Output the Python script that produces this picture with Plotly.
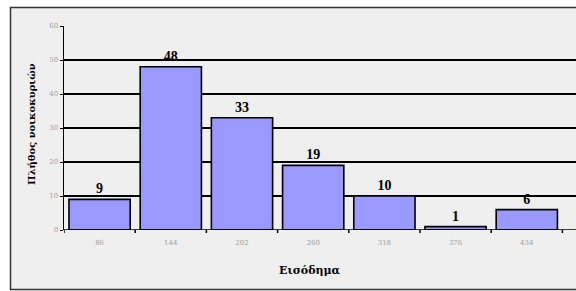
import plotly.graph_objects as go

categories = ["86", "144", "202", "260", "318", "376", "434"]
counts = [9, 48, 33, 19, 10, 1, 6]
y_ticks = [0, 10, 20, 30, 40, 50, 60]
x_title = "Εισόδημα"
y_title = "Πλήθος νοικοκυριών"

L, R, T, B = 64, 0, 26, 61
W, H = 576, 291
PW, PH = W - L - R, H - T - B

fig = go.Figure()
fig.add_trace(go.Bar(
    x=list(range(len(categories))),
    y=counts,
    text=["<b>%d</b>" % v for v in counts],
    textposition="outside",
    cliponaxis=False,
    textfont=dict(family="Liberation Serif", size=14, color="black"),
    marker=dict(color="#9999ff", line=dict(color="black", width=1.6)),
    width=0.86,
    hoverinfo="skip",
))

fig.update_layout(
    width=W, height=H,
    margin=dict(l=L, r=R, t=T, b=B, autoexpand=False),
    paper_bgcolor="white",
    plot_bgcolor="rgba(0,0,0,0)",
    showlegend=False,
    font=dict(family="DejaVu Serif"),
    xaxis=dict(
        tickmode="array",
        tickvals=list(range(len(categories))),
        ticktext=categories,
        range=[-0.5, -0.5 + PW / 71.2],
        showgrid=False,
        zeroline=False,
        showline=False,
        ticks="",
        automargin=False,
        ticklabelstandoff=7,
        tickfont=dict(size=7, color="#a0a0a0"),
    ),
    yaxis=dict(
        range=[0, 60],
        tickvals=y_ticks,
        showgrid=True,
        gridcolor="black",
        gridwidth=1.5,
        zeroline=False,
        showline=True,
        linecolor="black",
        linewidth=1.5,
        ticks="outside",
        ticklen=3,
        tickcolor="black",
        automargin=False,
        tickfont=dict(size=7, color="#a0a0a0"),
    ),
    annotations=[
        dict(text="<b>" + x_title + "</b>", xref="paper", yref="paper",
             x=(310 - L) / PW, y=-(270 - (H - B)) / PH, showarrow=False,
             xanchor="center", yanchor="middle",
             font=dict(family="DejaVu Serif", size=11, color="black")),
        dict(text="<b>" + y_title + "</b>", xref="paper", yref="paper",
             x=(31 - L) / PW, y=1 - (124 - T) / PH, showarrow=False, textangle=-90,
             xanchor="center", yanchor="middle",
             font=dict(family="DejaVu Serif", size=10, color="black")),
    ],
    shapes=[
        # outer frame with grey fill
        dict(type="rect", xref="paper", yref="paper",
             x0=(10.5 - L) / PW, x1=1.2, y0=-(289.5 - (H - B)) / PH, y1=1 + (T - 7.5) / PH,
             line=dict(color="#333333", width=1.5), fillcolor="#efefef", layer="below"),
        # baseline
        dict(type="line", xref="paper", yref="y", x0=0, x1=1, y0=0, y1=0,
             line=dict(color="black", width=1.5)),
    ],
)

# category boundary tick marks on the baseline
for b in [i - 0.5 for i in range(len(categories) + 1)]:
    fig.add_shape(type="line", xref="x", yref="paper", x0=b, x1=b, y0=0, y1=-3 / PH,
                  line=dict(color="black", width=1.5))

fig.write_html(
    "out.html",
    config={"displayModeBar": False, "staticPlot": True},
    post_script="document.body.style.margin='0';document.body.style.overflow='hidden';",
)
